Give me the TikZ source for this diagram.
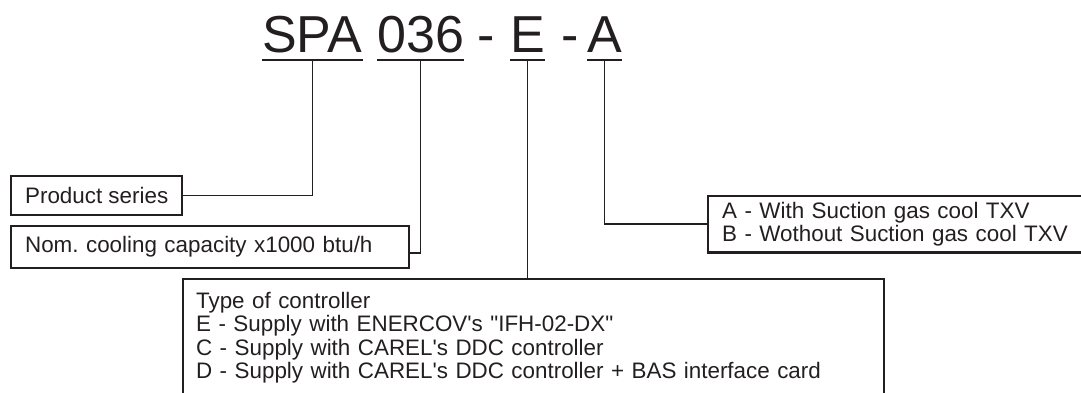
\documentclass[tikz,border=0pt]{standalone}
\usepackage{fontspec}
\setmainfont{Liberation Sans}
\usepackage{tikz}
\frenchspacing
\definecolor{ink}{HTML}{231F20}
\tikzset{
    code/.style={anchor=base west,inner sep=0pt,text=ink,font=\fontsize{52}{60}\selectfont},
    infobox/.style={draw=ink,line width=2.2pt,text=ink,inner xsep=14pt,align=left,font=\fontsize{22.4}{23.5}\selectfont},
    uline/.style={draw=ink,line width=2.2pt},
    link/.style={draw=ink,line width=1.6pt}
}

\begin{document}
\begin{tikzpicture}[x=1pt,y=-1pt]
                            \useasboundingbox (0,0) rectangle (1081,392);
                            \clip (0,0) rectangle (1081,392);
                            % model code
                            \node[code] (spa) at (262,52) {SPA};
                            \node[code] (cap) at (377,52) {036};
                            \node[code] (dasha) at (477,52) {-};
                            \node[code] (ctl) at (510,52) {E};
                            \node[code] (dashb) at (561,52) {-};
                            \node[code] (opt) at (587,52) {A};
                            \foreach \n in {spa,cap,ctl,opt}{
                                \draw[uline] ([yshift=-8pt]\n.base west) -- ([yshift=-8pt]\n.base east);
                                \coordinate (\n-u) at ([yshift=-8pt]\n.base);
                            }
                            % boxes
                            \node[infobox,anchor=north west,minimum width=170pt,minimum height=39pt,align=center] (prod) at (10,175) {Product series};
                            \node[infobox,anchor=north west,text width=370pt,minimum height=42pt] (nom) at (10,225) {Nom. cooling capacity x1000 btu/h};
                            \node[infobox,anchor=north west,text width=420pt,inner ysep=6pt] (opts) at (707,195) {A - With Suction gas cool TXV\\B - Wothout Suction gas cool TXV};
                            \node[infobox,anchor=north west,text width=675pt,inner xsep=13pt,inner ysep=13pt] (type) at (182,278) {Type of controller\\E - Supply with ENERCOV\textquotesingle s \textquotedbl IFH-02-DX\textquotedbl\\C - Supply with CAREL\textquotesingle s DDC controller\\D - Supply with CAREL\textquotesingle s DDC controller + BAS interface card};
                            % connectors
                            \draw[link] (spa-u) |- (prod.east);
                            \draw[link] (cap-u) |- ([yshift=-6pt]nom.east);
                            \draw[link] (ctl-u) -- (ctl-u |- type.north);
                            \draw[link] (opt-u) |- (opts.west);
                        \end{tikzpicture}
\end{document}
